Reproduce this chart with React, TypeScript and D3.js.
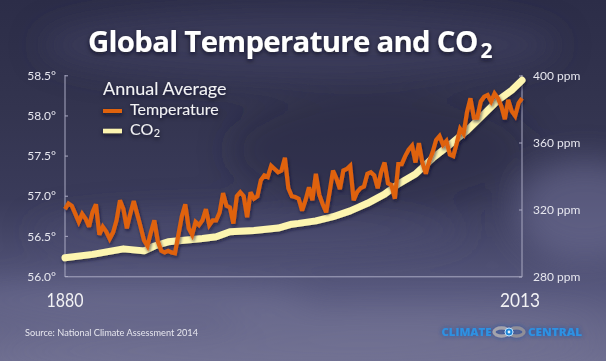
import React from 'react';
import * as d3 from 'd3';

// Annual average temperature (°F), 1880-2013
const tempYears: number[] = d3.range(1880, 2014);
const tempValues: number[] = [
  56.84, 56.91, 56.88, 56.78, 56.68, 56.78, 56.72, 56.62, 56.80, 56.90,
  56.52, 56.62, 56.56, 56.47, 56.55, 56.70, 56.95, 56.84, 56.60, 56.78,
  56.94, 56.78, 56.62, 56.45, 56.38, 56.55, 56.70, 56.44, 56.32, 56.30,
  56.32, 56.30, 56.29, 56.52, 56.75, 56.90, 56.60, 56.52, 56.68, 56.64,
  56.70, 56.84, 56.64, 56.70, 56.70, 56.80, 57.04, 56.88, 56.86, 56.66,
  57.00, 57.05, 57.00, 56.74, 57.05, 56.97, 57.00, 57.20, 57.26, 57.24,
  57.38, 57.34, 57.30, 57.32, 57.48, 57.10, 57.00, 56.99, 56.97, 56.82,
  56.95, 57.11, 56.95, 57.28, 57.02, 56.90, 56.80, 57.05, 57.32, 57.22,
  57.09, 57.32, 57.34, 57.38, 56.95, 57.05, 57.10, 57.12, 57.28, 57.30,
  57.26, 57.10, 57.30, 57.42, 57.16, 57.14, 56.97, 57.40, 57.40, 57.50,
  57.58, 57.63, 57.42, 57.66, 57.42, 57.28, 57.44, 57.55, 57.70, 57.75,
  57.64, 57.69, 57.52, 57.50, 57.66, 57.84, 57.78, 58.05, 58.22, 57.98,
  57.98, 58.18, 58.24, 58.26, 58.18, 58.28, 58.22, 58.12, 57.96, 58.20,
  58.06, 58.00, 58.16, 58.22,
];

// CO2 concentration (ppm)
const co2Years: number[] = [
  1880, 1888, 1897, 1903, 1906, 1910, 1920, 1924, 1928, 1935, 1942, 1946,
  1948, 1953, 1958, 1963, 1968, 1973, 1977, 1982, 1987, 1992, 1997, 2002,
  2006, 2010, 2013,
];
const co2Values: number[] = [
  291.5, 293.5, 296.8, 295.6, 298.5, 301.0, 303.0, 304.0, 307.0, 307.8, 309.2, 311.5,
  312.0, 313.5, 316.0, 319.5, 324.0, 329.5, 335.5, 341.5, 351.0, 359.0, 367.5, 377.5,
  385.5, 391.5, 397.5,
];

const tempTicks: number[] = [56.0, 56.5, 57.0, 57.5, 58.0, 58.5];
const co2Ticks: number[] = [280, 320, 360, 400];
const yearLabels: number[] = [1880, 2013];

const W = 606;
const H = 361;

const App: React.FC = () => {
  const x = d3.scaleLinear().domain([1880, 2013]).range([65, 522]);
  const yTemp = d3.scaleLinear().domain([56, 58.5]).range([276.5, 75.8]);
  const yCo2 = d3.scaleLinear().domain([280, 400]).range([277, 76]);

  const tempLine = d3.line<number>()
    .x((_d, i) => x(tempYears[i]))
    .y(d => yTemp(d));
  const co2Line = d3.line<number>()
    .x((_d, i) => x(co2Years[i]))
    .y(d => yCo2(d));

  const label = 'Lato, "Open Sans", sans-serif';
  const axisColor = '#a9a9c2';

  return (
    <svg width={W} height={H} style={{ position: 'absolute', left: 0, top: 0 }}>
      <defs>
        <linearGradient id="bg" x1="0" y1="0" x2="0" y2="1">
          <stop offset="0" stopColor="#2c2d48" />
          <stop offset="0.3" stopColor="#33344f" />
          <stop offset="0.55" stopColor="#3a3b5a" />
          <stop offset="0.8" stopColor="#56577c" />
          <stop offset="1" stopColor="#6e6e90" />
        </linearGradient>
        <filter id="cloud" x="-50%" y="-50%" width="200%" height="200%">
          <feGaussianBlur stdDeviation="16" />
        </filter>
        <filter id="shadow" x="-10%" y="-30%" width="120%" height="160%">
          <feDropShadow dx="0" dy="2" stdDeviation="2" floodColor="#10101e" floodOpacity="0.7" />
        </filter>
        <filter id="lineShadow" x="-10%" y="-30%" width="120%" height="160%">
          <feDropShadow dx="1" dy="2" stdDeviation="1.5" floodColor="#15152a" floodOpacity="0.6" />
        </filter>
        <filter id="glow" x="-20%" y="-50%" width="140%" height="200%">
          <feDropShadow dx="0" dy="0" stdDeviation="2" floodColor="#1a4fa0" floodOpacity="0.9" />
        </filter>
      </defs>

      {/* sky background */}
      <rect width={W} height={H} fill="url(#bg)" />
      <g filter="url(#cloud)">
        <ellipse cx={300} cy={45} rx={260} ry={35} fill="#45466a" opacity={0.5} />
        <ellipse cx={380} cy={150} rx={150} ry={60} fill="#262740" opacity={0.4} />
        <ellipse cx={585} cy={210} rx={70} ry={50} fill="#7878a0" opacity={0.5} />
        <ellipse cx={250} cy={232} rx={220} ry={20} fill="#55567a" opacity={0.35} />
        <ellipse cx={130} cy={300} rx={180} ry={16} fill="#8a8aaa" opacity={0.35} />
        <ellipse cx={420} cy={318} rx={200} ry={14} fill="#8a8aaa" opacity={0.3} />
        <ellipse cx={300} cy={352} rx={320} ry={18} fill="#7a7a9c" opacity={0.4} />
      </g>

      {/* title */}
      <g fontFamily='"Open Sans", sans-serif' fontWeight={700} fill="#ffffff" filter="url(#shadow)">
        <text x={88} y={52} fontSize={29.4} letterSpacing={-0.72}>
          Global Temperature and CO
        </text>
        <text x={480.5} y={58} fontSize={21}>2</text>
      </g>

      {/* axes */}
      <g stroke={axisColor} strokeWidth={1} fill="none">
        <line x1={65} x2={65} y1={75} y2={277} />
        <line x1={65} x2={522} y1={276.8} y2={276.8} />
        <line x1={522} x2={522} y1={75} y2={277} />
        {tempTicks.map(t => (
          <line key={`lt${t}`} x1={65} x2={68} y1={yTemp(t)} y2={yTemp(t)} />
        ))}
        {co2Ticks.map(t => (
          <line key={`rt${t}`} x1={519} x2={522} y1={yCo2(t)} y2={yCo2(t)} />
        ))}
      </g>
      <g fontFamily={label} fontSize={12} fill="#e6e6ee">
        {tempTicks.map(t => (
          <text key={`l${t}`} x={56} y={yTemp(t)} dy="0.35em" textAnchor="end">
            {`${t.toFixed(1)}°`}
          </text>
        ))}
        {co2Ticks.map(t => (
          <text key={`r${t}`} x={533} y={yCo2(t)} dy="0.35em">{`${t} ppm`}</text>
        ))}
      </g>
      <g fontFamily={label} fontSize={20} fill="#f2f2f4">
        {yearLabels.map((yr, i) => (
          <text key={yr} x={x(yr) - (i ? 2 : 0)} y={307} textAnchor="middle"
            textLength={i ? 40 : 37} lengthAdjust="spacingAndGlyphs">{yr}</text>
        ))}
      </g>

      {/* data lines */}
      <path d={co2Line(co2Values) || ''} fill="none" stroke="#fdf5b0" strokeWidth={7}
        strokeLinejoin="round" strokeLinecap="round" filter="url(#lineShadow)" />
      <path d={tempLine(tempValues) || ''} fill="none" stroke="#df620f" strokeWidth={4.2}
        strokeLinejoin="miter" strokeMiterlimit={3} filter="url(#lineShadow)" />

      {/* legend */}
      <g fontFamily={label} fill="#f2f2f4" filter="url(#shadow)">
        <text x={103} y={95} fontSize={18}>Annual Average</text>
        <line x1={103} x2={122} y1={111} y2={111} stroke="#df620f" strokeWidth={4} />
        <text x={130} y={115} fontSize={16}>Temperature</text>
        <line x1={103} x2={122} y1={131} y2={131} stroke="#fdf5b0" strokeWidth={4.5} />
        <text x={130} y={135} fontSize={16}>CO<tspan fontSize={11} dx={0.5} dy={2}>2</tspan></text>
      </g>

      {/* source */}
      <text x={25} y={336} fontFamily={label} fontSize={10} fill="#e6e6ee"
        textLength={173} lengthAdjust="spacingAndGlyphs">
        Source: National Climate Assessment 2014
      </text>

      {/* logo */}
      <g filter="url(#glow)">
        <text x={441.5} y={336} fontFamily='"Open Sans", sans-serif' fontWeight={800}
          fontSize={10} fill="#2d91e2" textLength={50} lengthAdjust="spacingAndGlyphs">CLIMATE</text>
        <text x={528} y={336} fontFamily='"Open Sans", sans-serif' fontWeight={800}
          fontSize={10} fill="#2d91e2" textLength={54} lengthAdjust="spacingAndGlyphs">CENTRAL</text>
        <ellipse cx={501.5} cy={332} rx={7.5} ry={4.2} fill="none" stroke="#a4a4ac" strokeWidth={3.2} />
        <ellipse cx={516.5} cy={332} rx={7.5} ry={4.2} fill="none" stroke="#8f8f98" strokeWidth={3.2} />
        <circle cx={509} cy={332} r={4} fill="#1f86d6" stroke="#bfe0ff" strokeWidth={1} />
        <circle cx={509} cy={332} r={1.4} fill="#dff0ff" />
      </g>
    </svg>
  );
};

export default App;
